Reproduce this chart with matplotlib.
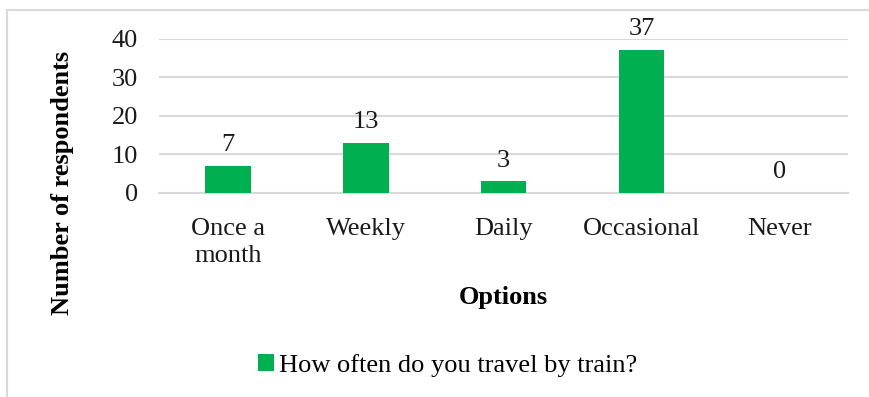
import matplotlib.pyplot as plt
from matplotlib.patches import Rectangle

options = ["Once a\nmonth", "Weekly", "Daily", "Occasional", "Never"]
respondents = [7, 13, 3, 37, 0]
series_name = "How often do you travel by train?"

plt.rcParams["font.family"] = ["Liberation Serif", "DejaVu Serif"]
FS = 19

fig = plt.figure(figsize=(8.69, 3.97), dpi=100)
ax = fig.add_axes([0.183, 0.514, 0.793, 0.389])

bars = ax.bar(options, respondents, width=0.33, color="#00B050", label=series_name, zorder=3)

# value labels above each bar
for rect, v in zip(bars, respondents):
    ax.annotate(str(v), (rect.get_x() + rect.get_width() / 2, v),
                xytext=(0, 7), textcoords="offset points",
                ha="center", va="bottom", fontsize=FS, color="#1a1a1a")

ax.set_ylim(0, 40)
ax.set_yticks([0, 10, 20, 30, 40])
ax.set_xlim(-0.5, len(options) - 0.5)
ax.grid(axis="y", color="#D9D9D9", linewidth=1.5, zorder=0)
for side in ["top", "right", "left"]:
    ax.spines[side].set_visible(False)
ax.spines["bottom"].set_color("#D9D9D9")
ax.spines["bottom"].set_linewidth(1.5)
ax.tick_params(axis="both", length=0, labelsize=FS, colors="#1a1a1a")
ax.tick_params(axis="y", pad=15)
ax.tick_params(axis="x", pad=18)
for lbl in ax.get_xticklabels():
    lbl.set_linespacing(1.3)

ax.set_xlabel("Options", fontsize=FS, fontweight="bold", labelpad=14)
ax.set_ylabel("Number of respondents", fontsize=FS, fontweight="bold")
ax.yaxis.set_label_coords(-0.124, 0.064)

fig.legend(handles=[bars], labels=[series_name], loc="center", bbox_to_anchor=(0.515, 0.08),
           frameon=False, fontsize=FS, handlelength=0.6, handleheight=0.6, handletextpad=0.2)

# outer chart frame
fig.patches.append(Rectangle((0.008, -0.05), 1.0, 1.025, transform=fig.transFigure,
                             fill=False, edgecolor="#D9D9D9", linewidth=1.5))

plt.savefig("out.png", dpi=100)
